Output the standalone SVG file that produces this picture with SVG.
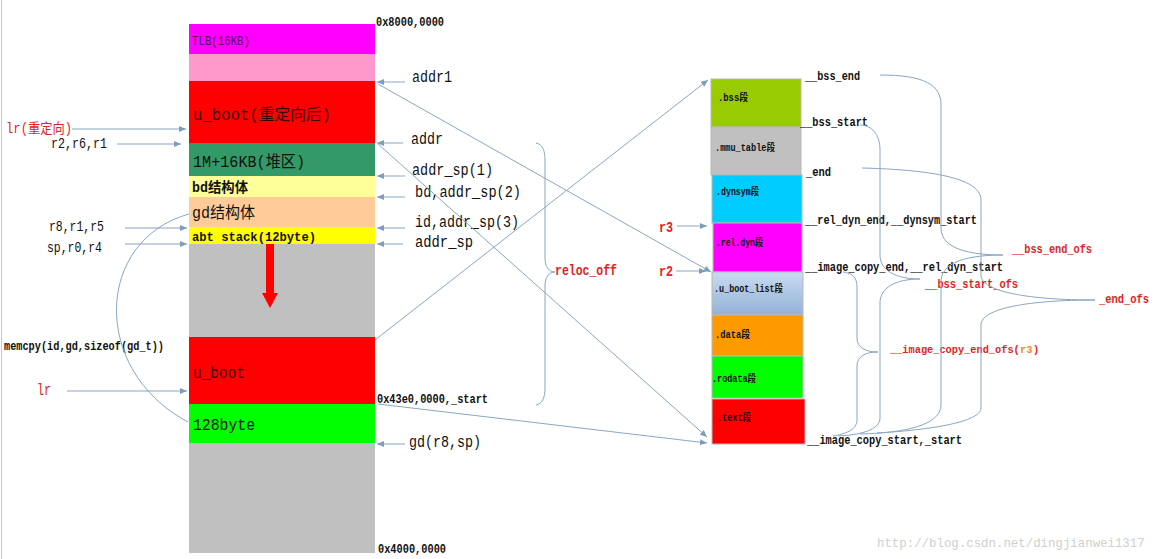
<svg xmlns="http://www.w3.org/2000/svg" width="1158" height="559" viewBox="0 0 1158 559">
<style>
text{font-family:'Liberation Mono','Noto Sans CJK SC',monospace;fill:#111}
.b{font-weight:bold}
.red{fill:#E31E24}
.s10{font-size:10px}
.s12{font-size:12px}
.s14{font-size:14px}
.s16{font-size:16px}
.conn{fill:none;stroke:#8AA6C2;stroke-width:1}
.seg{stroke:#B8B8B8;stroke-width:1}
</style>
<defs>
<marker id="ah" markerUnits="userSpaceOnUse" markerWidth="7" markerHeight="6" refX="7" refY="3" orient="auto">
<path d="M0,0 L7,3 L0,6 z" fill="#7E9CBB"/>
</marker>
<linearGradient id="gl" x1="0" y1="0" x2="0" y2="1">
<stop offset="0" stop-color="#C9DBF1"/>
<stop offset="1" stop-color="#93B1D6"/>
</linearGradient>
</defs>
<rect width="1158" height="559" fill="#fff"/>
<line x1="1.5" y1="0" x2="1.5" y2="559" stroke="#C8C8C8"/>

<g id="memory">
<g id="m-tlb"><rect x="189" y="24" width="186" height="30" fill="#FF00FF"/><text x="192" y="45" class="s12" style="fill:#5A005A" textLength="58" lengthAdjust="spacingAndGlyphs">TLB(16KB)</text></g>
<g id="m-pink"><rect x="189" y="54" width="186" height="27" fill="#FF99CC"/></g>
<g id="m-uboot-reloc"><rect x="189" y="81" width="186" height="62" fill="#FF0000"/><text x="193" y="120" class="s16" style="fill:#3A0000" textLength="138" lengthAdjust="spacingAndGlyphs">u_boot(重定向后)</text></g>
<g id="m-heap"><rect x="189" y="143" width="186" height="33" fill="#339966"/><text x="193" y="167" class="s16" textLength="112" lengthAdjust="spacingAndGlyphs">1M+16KB(堆区)</text></g>
<g id="m-bd"><rect x="189" y="176" width="186" height="21" fill="#FFFF99"/><text x="192" y="192" class="s14 b" textLength="56" lengthAdjust="spacingAndGlyphs">bd结构体</text></g>
<g id="m-gd"><rect x="189" y="197" width="186" height="30" fill="#FFCC99"/><text x="192" y="218" class="s16" textLength="63" lengthAdjust="spacingAndGlyphs">gd结构体</text></g>
<g id="m-abt"><rect x="189" y="227" width="186" height="17" fill="#FFFF00"/><text x="192" y="241" class="s12 b" textLength="124" lengthAdjust="spacingAndGlyphs">abt stack(12byte)</text></g>
<g id="m-free"><rect x="189" y="244" width="186" height="93" fill="#C0C0C0"/><path d="M266,244 H274 V293 H278 L270,308 L262,293 H266 Z" fill="#FF0000"/></g>
<g id="m-uboot"><rect x="189" y="337" width="186" height="67" fill="#FF0000"/><text x="193" y="378" class="s16" style="fill:#3A0000" textLength="52" lengthAdjust="spacingAndGlyphs">u_boot</text></g>
<g id="m-128"><rect x="189" y="404" width="186" height="39" fill="#00FF00"/><text x="193" y="430" class="s16" textLength="62" lengthAdjust="spacingAndGlyphs">128byte</text></g>
<g id="m-low"><rect x="189" y="443" width="186" height="110" fill="#C0C0C0"/></g>
</g>

<g id="addresses">
<text x="376" y="26" class="s12 b" textLength="68" lengthAdjust="spacingAndGlyphs">0x8000,0000</text>
<text x="377" y="403" class="s12 b" textLength="111" lengthAdjust="spacingAndGlyphs">0x43e0,0000,_start</text>
<text x="378" y="553" class="s12 b" textLength="68" lengthAdjust="spacingAndGlyphs">0x4000,0000</text>
</g>

<g id="left-labels">
<text x="6" y="133" class="s14 red" textLength="66" lengthAdjust="spacingAndGlyphs">lr(重定向)</text>
<text x="51" y="148" class="s14" textLength="56" lengthAdjust="spacingAndGlyphs">r2,r6,r1</text>
<text x="49" y="231" class="s14" textLength="55" lengthAdjust="spacingAndGlyphs">r8,r1,r5</text>
<text x="47" y="252" class="s14" textLength="55" lengthAdjust="spacingAndGlyphs">sp,r0,r4</text>
<text x="4" y="350" class="s12 b" textLength="160" lengthAdjust="spacingAndGlyphs">memcpy(id,gd,sizeof(gd_t))</text>
<text x="37" y="395" class="s16 red" textLength="14" lengthAdjust="spacingAndGlyphs">lr</text>
</g>

<g id="right-labels">
<text x="412" y="82" class="s16" textLength="40" lengthAdjust="spacingAndGlyphs">addr1</text>
<text x="411" y="144" class="s16" textLength="32" lengthAdjust="spacingAndGlyphs">addr</text>
<text x="412" y="175" class="s16" textLength="81" lengthAdjust="spacingAndGlyphs">addr_sp(1)</text>
<text x="415" y="197" class="s16" textLength="106" lengthAdjust="spacingAndGlyphs">bd,addr_sp(2)</text>
<text x="415" y="227" class="s16" textLength="104" lengthAdjust="spacingAndGlyphs">id,addr_sp(3)</text>
<text x="415" y="247" class="s16" textLength="58" lengthAdjust="spacingAndGlyphs">addr_sp</text>
<text x="409" y="447" class="s16" textLength="72" lengthAdjust="spacingAndGlyphs">gd(r8,sp)</text>
<text x="555" y="275" class="s14 b red" textLength="62" lengthAdjust="spacingAndGlyphs">reloc_off</text>
</g>

<g id="sections">
<g id="s-bss"><rect x="711" y="79" width="90" height="48" fill="#99CC00" class="seg"/><text x="718" y="101" class="s10 b" textLength="30" lengthAdjust="spacingAndGlyphs">.bss段</text></g>
<g id="s-mmu"><rect x="711" y="127" width="90" height="48" fill="#C0C0C0" class="seg"/><text x="715" y="151" class="s10 b" textLength="60" lengthAdjust="spacingAndGlyphs">.mmu_table段</text></g>
<g id="s-dynsym"><rect x="712" y="175" width="90" height="48" fill="#00CCFF" class="seg"/><text x="716" y="195" class="s10 b" textLength="43" lengthAdjust="spacingAndGlyphs">.dynsym段</text></g>
<g id="s-reldyn"><rect x="713" y="223" width="89" height="49" fill="#FF00FF" class="seg"/><text x="716" y="246" class="s10 b" textLength="47" lengthAdjust="spacingAndGlyphs">.rel.dyn段</text></g>
<g id="s-ubootlist"><rect x="712" y="272" width="91" height="43" fill="url(#gl)" class="seg"/><text x="714" y="292" class="s10 b" textLength="69" lengthAdjust="spacingAndGlyphs">.u_boot_list段</text></g>
<g id="s-data"><rect x="712" y="315" width="91" height="41" fill="#FF9900" class="seg"/><text x="715" y="338" class="s10 b" textLength="35" lengthAdjust="spacingAndGlyphs">.data段</text></g>
<g id="s-rodata"><rect x="712" y="356" width="91" height="42" fill="#00FF00" class="seg"/><text x="712" y="382" class="s10 b" textLength="44" lengthAdjust="spacingAndGlyphs">.rodata段</text></g>
<g id="s-text"><rect x="712" y="399" width="93" height="45" fill="#FF0000" class="seg"/><text x="717" y="421" class="s10 b" textLength="34" lengthAdjust="spacingAndGlyphs">.text段</text></g>
</g>

<g id="symbols">
<text x="805" y="80" class="s12 b" textLength="55" lengthAdjust="spacingAndGlyphs">__bss_end</text>
<text x="800" y="126" class="s12 b" textLength="68" lengthAdjust="spacingAndGlyphs">__bss_start</text>
<text x="806" y="176" class="s12 b" textLength="25" lengthAdjust="spacingAndGlyphs">_end</text>
<text x="805" y="224" class="s12 b" textLength="172" lengthAdjust="spacingAndGlyphs">__rel_dyn_end,__dynsym_start</text>
<text x="805" y="271" class="s12 b" textLength="198" lengthAdjust="spacingAndGlyphs">__image_copy_end,__rel_dyn_start</text>
<text x="807" y="444" class="s12 b" textLength="155" lengthAdjust="spacingAndGlyphs">__image_copy_start,_start</text>
<text x="1012" y="253" class="s12 b red" textLength="80" lengthAdjust="spacingAndGlyphs">__bss_end_ofs</text>
<text x="925" y="288" class="s12 b red" textLength="93" lengthAdjust="spacingAndGlyphs">__bss_start_ofs</text>
<text x="1099" y="303" class="s12 b red" textLength="50" lengthAdjust="spacingAndGlyphs">_end_ofs</text>
<text x="890" y="353" class="b red" style="font-size:10.3px">__image_copy_end_ofs(</text>
<text x="1020" y="353" class="b" style="font-size:10.3px;fill:#F08C1E">r3</text>
<text x="1033" y="353" class="b red" style="font-size:10.3px">)</text>
<text x="659" y="232" class="s14 b red" textLength="14" lengthAdjust="spacingAndGlyphs">r3</text>
<text x="659" y="276" class="s14 b red" textLength="14" lengthAdjust="spacingAndGlyphs">r2</text>
</g>

<g id="connectors">
<line class="conn" x1="72" y1="129" x2="186" y2="129" marker-end="url(#ah)"/>
<line class="conn" x1="117" y1="144" x2="181" y2="144" marker-end="url(#ah)"/>
<line class="conn" x1="125" y1="228" x2="187" y2="228" marker-end="url(#ah)"/>
<line class="conn" x1="125" y1="244" x2="187" y2="244" marker-end="url(#ah)"/>
<line class="conn" x1="67" y1="391" x2="187" y2="391" marker-end="url(#ah)"/>
<line class="conn" x1="405" y1="82" x2="377" y2="82" marker-end="url(#ah)"/>
<line class="conn" x1="403" y1="143" x2="377" y2="143" marker-end="url(#ah)"/>
<line class="conn" x1="405" y1="176" x2="377" y2="176" marker-end="url(#ah)"/>
<line class="conn" x1="405" y1="197" x2="377" y2="197" marker-end="url(#ah)"/>
<line class="conn" x1="405" y1="228" x2="377" y2="228" marker-end="url(#ah)"/>
<line class="conn" x1="403" y1="244" x2="377" y2="244" marker-end="url(#ah)"/>
<line class="conn" x1="405" y1="444" x2="377" y2="444" marker-end="url(#ah)"/>
<line class="conn" x1="677" y1="226" x2="707" y2="226" marker-end="url(#ah)"/>
<line class="conn" x1="676" y1="271" x2="706" y2="271" marker-end="url(#ah)"/>
<line class="conn" x1="378" y1="84" x2="711" y2="272" marker-end="url(#ah)"/>
<line class="conn" x1="378" y1="144" x2="707" y2="437" marker-end="url(#ah)"/>
<line class="conn" x1="375" y1="340" x2="708" y2="80" marker-end="url(#ah)"/>
<line class="conn" x1="378" y1="404" x2="707" y2="443" marker-end="url(#ah)"/>
<path class="conn" d="M189,214 C95,240 90,370 188,422"/>
<path class="conn" d="M536,143 C542,144 545,150 545,160 L545,258 C545,267 549,272 555,272 C549,272 545,277 545,286 L545,388 C545,398 542,404 536,405"/>
<path class="conn" d="M880,75 C925,75 941,85 941,105 L941,228 C941,245 960,255 1003,255 C960,255 941,265 941,282 L941,405 C941,425 905,433 860,434"/>
<path class="conn" d="M860,125 C872,125 880,135 880,150 L880,255 C880,270 895,279 920,279 C895,279 880,288 880,303 L880,418 C880,430 860,435 838,436"/>
<path class="conn" d="M862,168 C940,170 981,180 981,200 L981,275 C981,292 1030,300 1095,300 C1030,300 981,308 981,325 L981,408 C981,422 930,430 877,433"/>
<path class="conn" d="M843,272 C852,273 857,277 857,287 L857,338 C857,348 866,352 878,352 C866,352 857,356 857,366 L857,420 C857,430 845,434 833,436"/>
</g>

<text x="877" y="547" style="font-size:12.4px;fill:#CFCFCF">http://blog.csdn.net/dingjianwei1317</text>
</svg>
